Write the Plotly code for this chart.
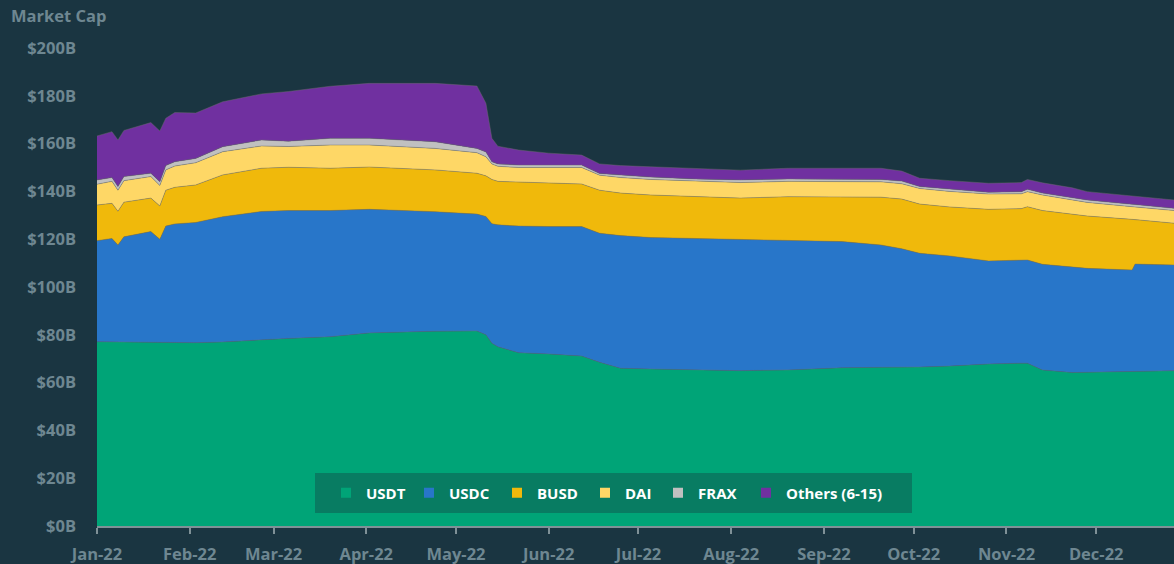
import plotly.graph_objects as go

dates = ["2022-01-01", "2022-01-06", "2022-01-08", "2022-01-10", "2022-01-19", "2022-01-22",
         "2022-01-24", "2022-01-27", "2022-02-03", "2022-02-12", "2022-02-25", "2022-03-06",
         "2022-03-20", "2022-04-02", "2022-04-24", "2022-05-08", "2022-05-11", "2022-05-13",
         "2022-05-15", "2022-05-22", "2022-06-01", "2022-06-12", "2022-06-18", "2022-06-25",
         "2022-07-05", "2022-07-20", "2022-08-04", "2022-08-20", "2022-09-07", "2022-09-20",
         "2022-09-27", "2022-10-03", "2022-10-13", "2022-10-26", "2022-11-06", "2022-11-08",
         "2022-11-13", "2022-11-23", "2022-11-28", "2022-12-13", "2022-12-14", "2022-12-27"]

usdt = [77.1, 77.0, 77.0, 77.0, 76.9, 76.8, 76.8, 76.7, 76.7, 77.0, 78.0, 78.5,
        79.2, 80.8, 81.5, 81.6, 80.0, 76.5, 75.0, 72.5, 72.0, 71.1, 68.5, 66.0,
        65.7, 65.2, 65.0, 65.3, 66.2, 66.4, 66.4, 66.5, 66.9, 67.8, 68.1, 68.1,
        65.3, 64.2, 64.3, 64.6, 64.7, 65.0]
usdc = [42.3, 43.3, 40.6, 44.0, 46.3, 43.2, 48.7, 49.7, 50.3, 52.4, 53.6, 53.5,
        52.8, 51.7, 50.0, 48.9, 49.5, 50.0, 51.0, 53.0, 53.3, 54.2, 54.0, 55.5,
        55.0, 55.1, 55.0, 54.2, 52.8, 51.2, 49.6, 47.6, 46.1, 43.1, 42.9, 43.2,
        44.2, 44.1, 43.5, 42.5, 44.9, 44.2]
busd = [14.9, 14.7, 14.1, 14.5, 14.0, 13.9, 15.0, 15.3, 15.7, 17.5, 18.1, 18.1,
        17.7, 17.7, 17.5, 17.1, 17.0, 18.5, 18.2, 18.5, 18.2, 17.8, 18.0, 17.8,
        17.8, 17.5, 17.2, 18.3, 18.8, 20.0, 20.8, 20.6, 20.5, 21.6, 21.8, 22.3,
        22.5, 22.2, 21.9, 21.2, 18.6, 17.5]
dai = [8.7, 9.2, 8.8, 9.0, 9.0, 8.6, 8.5, 8.9, 9.3, 9.7, 9.3, 8.7,
       9.7, 9.2, 9.0, 8.6, 8.0, 6.5, 6.3, 6.0, 6.5, 6.9, 6.3, 6.5,
       6.5, 6.4, 6.5, 6.4, 6.2, 6.4, 6.4, 6.5, 6.5, 6.4, 6.2, 6.3,
       6.5, 6.0, 5.7, 5.3, 5.3, 5.3]
frax = [1.8, 1.6, 1.5, 1.7, 1.4, 1.5, 1.8, 1.8, 1.8, 2.1, 2.5, 2.2,
        2.8, 2.8, 2.8, 1.8, 2.0, 0.9, 1.0, 1.0, 1.0, 1.0, 0.7, 1.0,
        1.0, 1.0, 1.1, 1.0, 1.0, 1.0, 1.1, 0.8, 1.0, 0.7, 0.9, 1.0,
        0.8, 0.8, 1.0, 1.0, 1.0, 0.9]
others = [18.4, 19.2, 19.5, 19.3, 21.2, 21.3, 19.8, 20.6, 19.0, 18.8, 19.3, 20.8,
          21.8, 23.0, 24.4, 26.1, 20.4, 9.8, 7.4, 6.3, 5.0, 4.2, 4.0, 4.0,
          4.3, 4.3, 4.1, 4.5, 4.7, 4.7, 4.2, 3.5, 3.5, 3.8, 3.8, 4.1,
          4.3, 4.2, 3.5, 3.5, 3.5, 3.5]

series_names = ["USDT", "USDC", "BUSD", "DAI", "FRAX", "Others (6-15)"]
series_values = [usdt, usdc, busd, dai, frax, others]
series_colors = ["#00a477", "#2876c9", "#f0b90b", "#fed766", "#c0c0c0", "#7030a0"]
legend_widths = [38, 43, 43, 28, 43, 110]

BG = "#1a3541"
TXT = "#6e8791"
FONT = "Open Sans"

fig = go.Figure()
for name, vals, col in zip(series_names, series_values, series_colors):
    fig.add_trace(go.Scatter(
        x=dates, y=vals, name=name, stackgroup="one", mode="lines",
        line=dict(width=0.8, color="rgba(110,110,110,0.55)"),
        fillcolor=col, showlegend=False, hoverinfo="x+y+name"))

for name, col, lw in zip(series_names, series_colors, legend_widths):
    fig.add_trace(go.Scatter(
        x=[None], y=[None], name=name, mode="markers", legendwidth=lw,
        marker=dict(symbol="square", size=10, color=col), showlegend=True))

fig.update_layout(
    width=1174, height=564,
    paper_bgcolor=BG, plot_bgcolor=BG,
    margin=dict(l=97, r=0, t=48, b=38),
    font=dict(family=FONT, color=TXT, size=15),
    title=dict(text="<b>Market Cap</b>", x=11 / 1174, xanchor="left", xref="container",
               y=1 - 16 / 564, yanchor="middle", yref="container",
               font=dict(family=FONT, size=16.5, color=TXT)),
    xaxis=dict(
        type="date", range=["2022-01-01", "2022-12-27"],
        tickformat="<b>%b-%y</b>", dtick="M1", tick0="2022-01-01",
        ticks="outside", ticklen=6, tickwidth=2, tickcolor="#7f9197",
        showline=True, linecolor="#7f9197", linewidth=2,
        showgrid=False, zeroline=False, ticklabelstandoff=6,
        tickfont=dict(family=FONT, size=16.5, color=TXT)),
    yaxis=dict(
        range=[0, 200], dtick=20, tickprefix="<b>$", ticksuffix="B</b>",
        showgrid=False, zeroline=False, showline=False, ticks="",
        ticklabelstandoff=20,
        tickfont=dict(family=FONT, size=16.5, color=TXT)),
    legend=dict(
        orientation="h", x=(326 - 97) / 1077, xanchor="left", y=0.069, yanchor="middle",
        traceorder="normal",
        bgcolor="rgba(0,0,0,0)", font=dict(family=FONT, size=15, color="white", weight="bold"),
        itemwidth=30, tracegroupgap=0),
    shapes=[dict(type="rect", xref="paper", yref="paper",
                 x0=(315 - 97) / 1077, x1=(912 - 97) / 1077,
                 y0=(526 - 513) / 478, y1=(526 - 473) / 478,
                 fillcolor="#087c62", line=dict(width=0), layer="above")],
)

fig.write_html("out.html", config={"displayModeBar": False},
               post_script="document.body.style.margin='0';document.body.style.overflow='hidden';")
